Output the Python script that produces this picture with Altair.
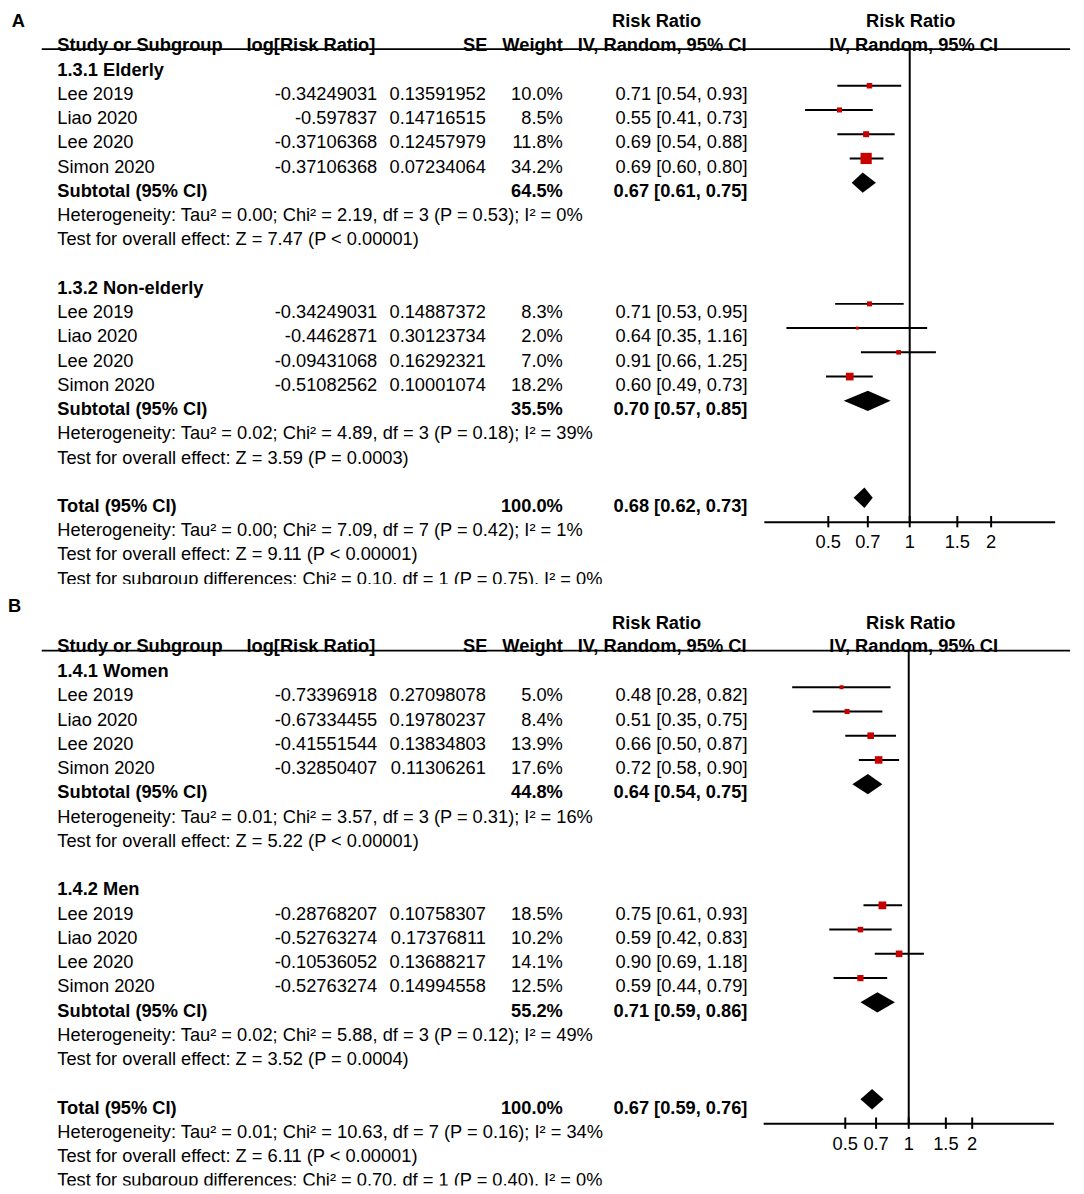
import altair as alt
import pandas as pd

FONT = "Liberation Sans"
FS = 18.4
RED = "#c80000"

# ---------------- Panel A data ----------------
A_label = "A"
A_groups = ["1.3.1 Elderly", "1.3.2 Non-elderly"]
A_studies = [["Lee 2019", "Liao 2020", "Lee 2020", "Simon 2020"],
             ["Lee 2019", "Liao 2020", "Lee 2020", "Simon 2020"]]
A_logrr = [[-0.34249031, -0.597837, -0.37106368, -0.37106368],
           [-0.34249031, -0.4462871, -0.09431068, -0.51082562]]
A_se = [[0.13591952, 0.14716515, 0.12457979, 0.07234064],
        [0.14887372, 0.30123734, 0.16292321, 0.10001074]]
A_weight = [[10.0, 8.5, 11.8, 34.2], [8.3, 2.0, 7.0, 18.2]]
A_rr = [[0.71, 0.55, 0.69, 0.69], [0.71, 0.64, 0.91, 0.60]]
A_lo = [[0.54, 0.41, 0.54, 0.60], [0.53, 0.35, 0.66, 0.49]]
A_hi = [[0.93, 0.73, 0.88, 0.80], [0.95, 1.16, 1.25, 0.73]]
A_sub_weight = [64.5, 35.5]
A_sub_rr = [0.67, 0.70]
A_sub_lo = [0.61, 0.57]
A_sub_hi = [0.75, 0.85]
A_sub_het = ["Heterogeneity: Tau² = 0.00; Chi² = 2.19, df = 3 (P = 0.53); I² = 0%",
             "Heterogeneity: Tau² = 0.02; Chi² = 4.89, df = 3 (P = 0.18); I² = 39%"]
A_sub_test = ["Test for overall effect: Z = 7.47 (P < 0.00001)",
              "Test for overall effect: Z = 3.59 (P = 0.0003)"]
A_total = [100.0, 0.68, 0.62, 0.73]
A_total_notes = ["Heterogeneity: Tau² = 0.00; Chi² = 7.09, df = 7 (P = 0.42); I² = 1%",
                 "Test for overall effect: Z = 9.11 (P < 0.00001)",
                 "Test for subgroup differences: Chi² = 0.10, df = 1 (P = 0.75), I² = 0%"]
A_ticks = [0.5, 0.7, 1, 1.5, 2]

# ---------------- Panel B data ----------------
B_label = "B"
B_groups = ["1.4.1 Women", "1.4.2 Men"]
B_studies = [["Lee 2019", "Liao 2020", "Lee 2020", "Simon 2020"],
             ["Lee 2019", "Liao 2020", "Lee 2020", "Simon 2020"]]
B_logrr = [[-0.73396918, -0.67334455, -0.41551544, -0.32850407],
           [-0.28768207, -0.52763274, -0.10536052, -0.52763274]]
B_se = [[0.27098078, 0.19780237, 0.13834803, 0.11306261],
        [0.10758307, 0.17376811, 0.13688217, 0.14994558]]
B_weight = [[5.0, 8.4, 13.9, 17.6], [18.5, 10.2, 14.1, 12.5]]
B_rr = [[0.48, 0.51, 0.66, 0.72], [0.75, 0.59, 0.90, 0.59]]
B_lo = [[0.28, 0.35, 0.50, 0.58], [0.61, 0.42, 0.69, 0.44]]
B_hi = [[0.82, 0.75, 0.87, 0.90], [0.93, 0.83, 1.18, 0.79]]
B_sub_weight = [44.8, 55.2]
B_sub_rr = [0.64, 0.71]
B_sub_lo = [0.54, 0.59]
B_sub_hi = [0.75, 0.86]
B_sub_het = ["Heterogeneity: Tau² = 0.01; Chi² = 3.57, df = 3 (P = 0.31); I² = 16%",
             "Heterogeneity: Tau² = 0.02; Chi² = 5.88, df = 3 (P = 0.12); I² = 49%"]
B_sub_test = ["Test for overall effect: Z = 5.22 (P < 0.00001)",
              "Test for overall effect: Z = 3.52 (P = 0.0004)"]
B_total = [100.0, 0.67, 0.59, 0.76]
B_total_notes = ["Heterogeneity: Tau² = 0.01; Chi² = 10.63, df = 7 (P = 0.16); I² = 34%",
                 "Test for overall effect: Z = 6.11 (P < 0.00001)",
                 "Test for subgroup differences: Chi² = 0.70, df = 1 (P = 0.40), I² = 0%"]
B_ticks = [0.5, 0.7, 1, 1.5, 2]

# ---------------- layout ----------------
W = 1076
STEP = 24.42
MARK_DY = -0.28
DIA_H = 0.42
HEAD_LINE_ROW = -0.79
AXIS_ROW = 18.73
TICK_TOP = 18.47
TICK_BOT = 18.94
TICK_LABEL_ROW = 19.5

COLS = {
    "name": (49.7, "left"),
    "hlog": (370, "right"),
    "logrr": (372, "right"),
    "hse": (483, "right"),
    "se": (481.5, "right"),
    "w": (559, "right"),
    "ci": (745, "right"),
    "hrr": (653.5, "center"),
    "hci": (744, "right"),
    "frr": (909.5, "center"),
    "fci": (912.5, "center"),
}


def ci_text(rr, lo, hi):
    return f"{rr:.2f} [{lo:.2f}, {hi:.2f}]"


def build_panel(P, xdom, xrng, height, row0, label_pos):
    cols = dict(COLS)
    cols["panel"] = (label_pos[0], "left")
    txt = []
    studies = []
    dia = []
    txt.append((P["label"], label_pos[1], "panel", True))
    txt.append(("Risk Ratio", -2.0, "hrr", True))
    txt.append(("Risk Ratio", -2.0, "frr", True))
    for lab, col in [("Study or Subgroup", "name"), ("log[Risk Ratio]", "hlog"),
                     ("SE", "hse"), ("Weight", "w"),
                     ("IV, Random, 95% CI", "hci"), ("IV, Random, 95% CI", "fci")]:
        txt.append((lab, -1.04, col, True))

    def add_diamond(key, rr, lo, hi, row):
        c = row + MARK_DY
        dia.append(dict(id=key, x=lo, y=c, y2=c))
        dia.append(dict(id=key, x=rr, y=c - DIA_H, y2=c + DIA_H))
        dia.append(dict(id=key, x=hi, y=c, y2=c))

    r = 0
    for g in range(2):
        txt.append((P["groups"][g], r, "name", True))
        r += 1
        for i in range(4):
            txt.append((P["studies"][g][i], r, "name", False))
            txt.append((str(P["logrr"][g][i]), r, "logrr", False))
            txt.append((str(P["se"][g][i]), r, "se", False))
            txt.append((f"{P['weight'][g][i]:.1f}%", r, "w", False))
            txt.append((ci_text(P["rr"][g][i], P["lo"][g][i], P["hi"][g][i]), r, "ci", False))
            studies.append(dict(my=r + MARK_DY, rr=P["rr"][g][i], lo=P["lo"][g][i],
                                hi=P["hi"][g][i], w=P["weight"][g][i]))
            r += 1
        txt.append(("Subtotal (95% CI)", r, "name", True))
        txt.append((f"{P['sub_weight'][g]:.1f}%", r, "w", True))
        txt.append((ci_text(P["sub_rr"][g], P["sub_lo"][g], P["sub_hi"][g]), r, "ci", True))
        add_diamond(f"s{g}", P["sub_rr"][g], P["sub_lo"][g], P["sub_hi"][g], r)
        r += 1
        txt.append((P["sub_het"][g], r, "name", False))
        r += 1
        txt.append((P["sub_test"][g], r, "name", False))
        r += 2
    tw, trr, tlo, thi = P["total"]
    txt.append(("Total (95% CI)", r, "name", True))
    txt.append((f"{tw:.1f}%", r, "w", True))
    txt.append((ci_text(trr, tlo, thi), r, "ci", True))
    add_diamond("total", trr, tlo, thi, r)
    r += 1
    for note in P["notes"]:
        txt.append((note, r, "name", False))
        r += 1

    tdf = pd.DataFrame(txt, columns=["label", "row", "col", "bold"])
    xs = alt.Scale(type="log", domain=xdom, range=xrng, nice=False, zero=False)
    ys = alt.Scale(domain=[0, 21], range=[row0, row0 + 21 * STEP], zero=False, nice=False)
    layers = []

    # table line under the header
    hl = pd.DataFrame([{"row": HEAD_LINE_ROW}])
    layers.append(alt.Chart(hl).mark_rule(color="black", strokeWidth=2).encode(
        x=alt.value(34), x2=alt.value(1070), y=alt.Y("row:Q", scale=ys, axis=None)))

    for (col, bold), sub in tdf.groupby(["col", "bold"]):
        xpx, align = cols[col]
        layers.append(alt.Chart(sub).mark_text(
            align=align, baseline="middle", dy=1.5, font=FONT, fontSize=FS,
            fontWeight="bold" if bold else "normal", color="black", clip=True
        ).encode(x=alt.value(xpx), y=alt.Y("row:Q", scale=ys, axis=None), text="label:N"))

    sdf = pd.DataFrame(studies)
    ddf = pd.DataFrame(dia)

    # line of no effect
    vdf = pd.DataFrame([{"x": 1, "y": HEAD_LINE_ROW, "y2": AXIS_ROW}])
    layers.append(alt.Chart(vdf).mark_rule(color="black", strokeWidth=2).encode(
        x=alt.X("x:Q", scale=xs, axis=None), y=alt.Y("y:Q", scale=ys, axis=None), y2="y2:Q"))

    # axis line, ticks and labels
    adf = pd.DataFrame([{"x": xdom[0], "x2": xdom[1], "y": AXIS_ROW}])
    layers.append(alt.Chart(adf).mark_rule(color="black", strokeWidth=2).encode(
        x=alt.X("x:Q", scale=xs, axis=None), x2="x2:Q", y=alt.Y("y:Q", scale=ys, axis=None)))
    kdf = pd.DataFrame({"t": P["ticks"], "lab": [f"{t:g}" for t in P["ticks"]]})
    kdf["y"] = TICK_TOP
    kdf["y2"] = TICK_BOT
    kdf["ly"] = TICK_LABEL_ROW
    layers.append(alt.Chart(kdf).mark_rule(color="black", strokeWidth=2).encode(
        x=alt.X("t:Q", scale=xs, axis=None), y=alt.Y("y:Q", scale=ys, axis=None), y2="y2:Q"))
    layers.append(alt.Chart(kdf).mark_text(
        align="center", baseline="middle", dy=1.5, font=FONT, fontSize=FS, color="black"
    ).encode(x=alt.X("t:Q", scale=xs, axis=None), y=alt.Y("ly:Q", scale=ys, axis=None),
             text="lab:N"))

    # CI lines
    layers.append(alt.Chart(sdf).mark_rule(color="black", strokeWidth=2).encode(
        x=alt.X("lo:Q", scale=xs, axis=None), x2="hi:Q",
        y=alt.Y("my:Q", scale=ys, axis=None)))
    # weighted squares
    layers.append(alt.Chart(sdf).mark_square(color=RED, filled=True, opacity=1, strokeWidth=0).encode(
        x=alt.X("rr:Q", scale=xs, axis=None), y=alt.Y("my:Q", scale=ys, axis=None),
        size=alt.Size("w:Q", scale=alt.Scale(type="pow", exponent=1.3, domain=[0, 34.2],
                                             range=[6, 128]), legend=None)))
    # diamonds
    layers.append(alt.Chart(ddf).mark_area(color="black", orient="vertical", opacity=1).encode(
        x=alt.X("x:Q", scale=xs, axis=None), y=alt.Y("y:Q", scale=ys, axis=None), y2="y2:Q",
        detail="id:N"))

    return alt.layer(*layers).properties(width=W, height=height)


PA = dict(label=A_label, groups=A_groups, studies=A_studies, logrr=A_logrr, se=A_se,
          weight=A_weight, rr=A_rr, lo=A_lo, hi=A_hi, sub_weight=A_sub_weight,
          sub_rr=A_sub_rr, sub_lo=A_sub_lo, sub_hi=A_sub_hi, sub_het=A_sub_het,
          sub_test=A_sub_test, total=A_total, notes=A_total_notes, ticks=A_ticks)
PB = dict(label=B_label, groups=B_groups, studies=B_studies, logrr=B_logrr, se=B_se,
          weight=B_weight, rr=B_rr, lo=B_lo, hi=B_hi, sub_weight=B_sub_weight,
          sub_rr=B_sub_rr, sub_lo=B_sub_lo, sub_hi=B_sub_hi, sub_het=B_sub_het,
          sub_test=B_sub_test, total=B_total, notes=B_total_notes, ticks=B_ticks)

# panel A occupies page y 8..584, panel B page y 598..1190
panelA = build_panel(PA, [0.29, 3.45], [762, 1055], 576, 56.3, (3.7, -2.0))
panelB = build_panel(PB, [0.205, 4.88], [761.3, 1053.7], 592, 72.3, (0.0, -2.69))

chart = alt.vconcat(panelA, panelB, spacing=14).properties(
    padding=0, background="white"
).configure_view(strokeWidth=0)

chart.save("out.html", embed_options={"renderer": "svg", "actions": False})
